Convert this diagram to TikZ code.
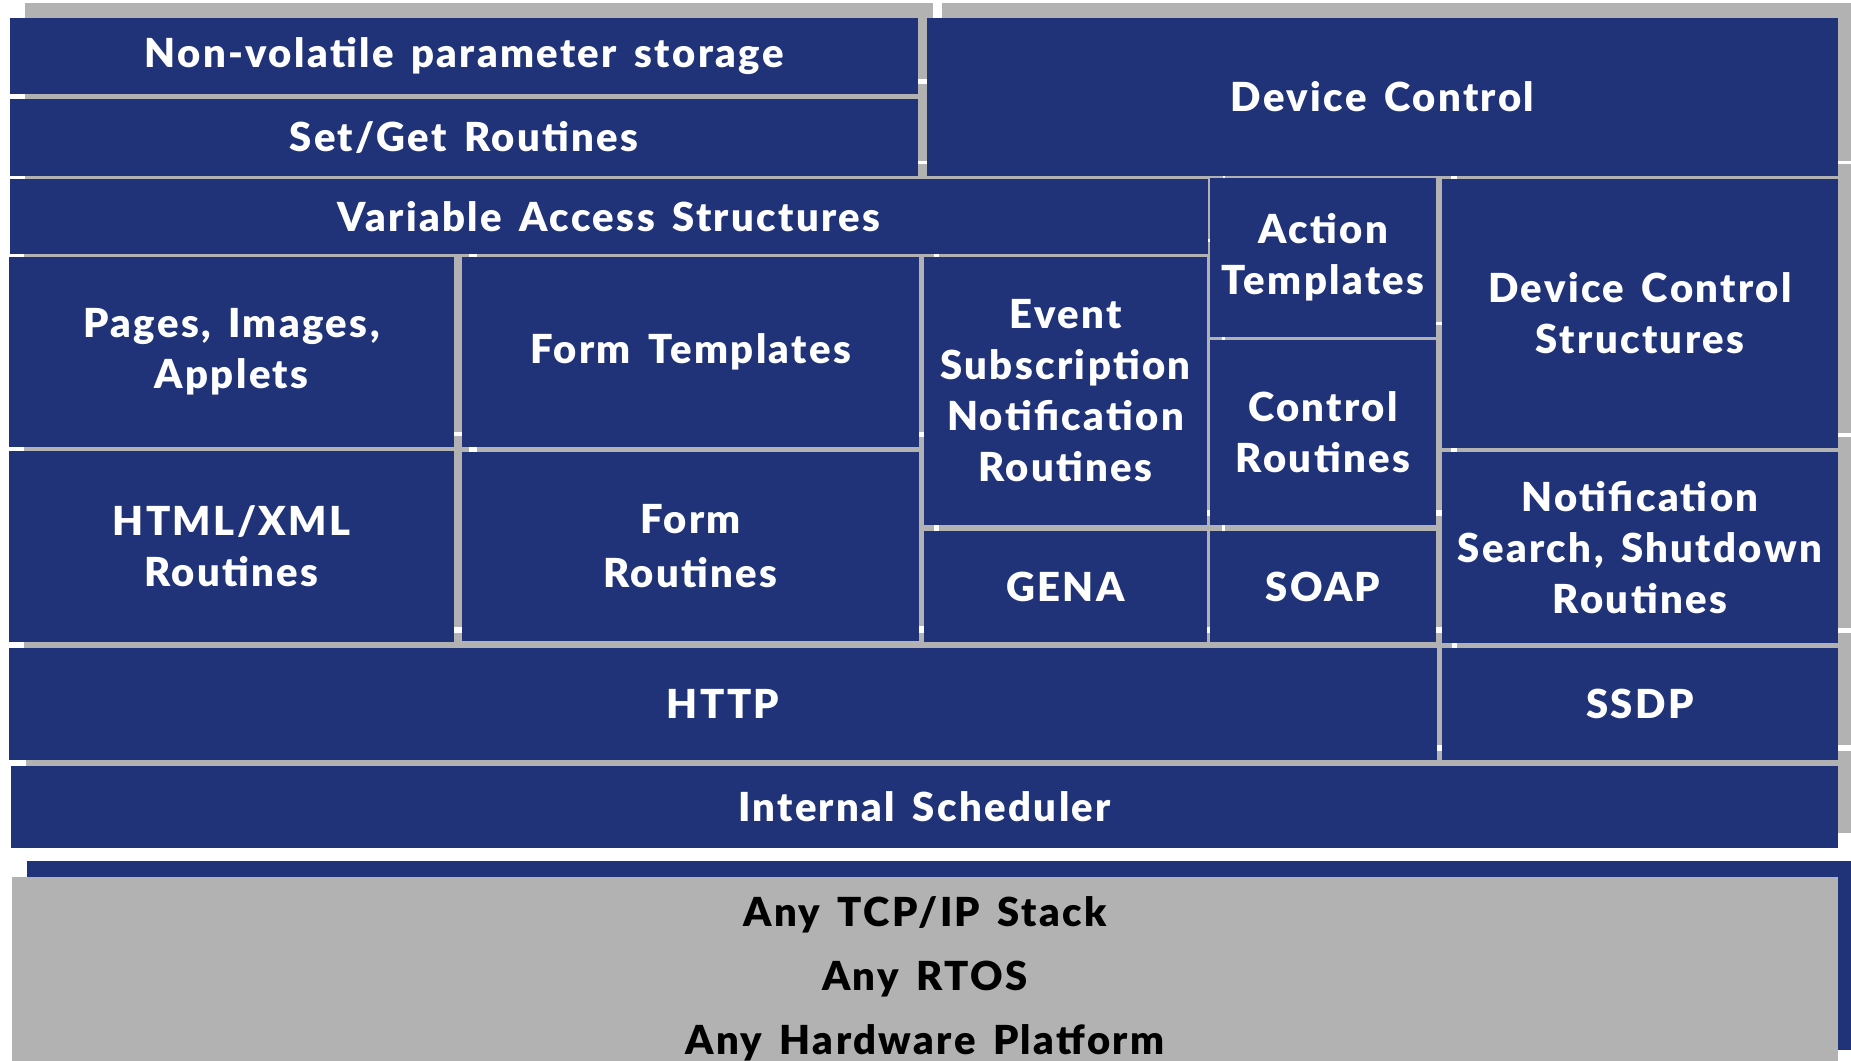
\documentclass[tikz,border=0pt]{standalone}
\usepackage{fontspec}
\setmainfont{Lato}[BoldFont={Lato Black}, LetterSpace=6, WordSpace=1.5]
\usetikzlibrary{backgrounds}

\definecolor{upnpblue}{RGB}{32,51,120}
\definecolor{upnpgray}{RGB}{178,178,178}
\newcommand\layerfont{\fontsize{40}{51}\selectfont\bfseries}

\tikzset{
  layer/.style={rectangle, fill=upnpblue, text=white, inner sep=0pt, align=center, font=\layerfont},
  platform/.style={rectangle, fill=upnpgray, text=black, inner sep=0pt, align=center, font=\fontsize{40}{64}\selectfont\bfseries},
  layer shadow/.style={fill=upnpgray},
}

\begin{document}
\begin{tikzpicture}[x=1pt, y=-1pt]
    \clip (0,0) rectangle (1851,1060);
    % top rows
    \node (nvps) [layer, minimum width=908pt, minimum height=76pt] at (464,56) {Non-volatile parameter storage};
    \node (setget) [layer, minimum width=908pt, minimum height=77pt] at (464,137.5) {Set/Get Routines};
    \node (devctl) [layer, minimum width=911pt, minimum height=158pt] at (1382.5,97) {Device Control};
    \node (vas) [layer, minimum width=1198pt, minimum height=75pt] at (609,216.5) {Variable Access Structures};
    \node (action) [layer, minimum width=226pt, minimum height=159pt] at (1323,257.5) {Action\\Templates};
    \node (dcs) [layer, minimum width=396pt, minimum height=269pt] at (1640,313.5) {Device Control\\Structures};
    % middle block
    \node (pages) [layer, minimum width=445pt, minimum height=190pt] at (231.5,352) {Pages, Images,\\Applets};
    \node (formtpl) [layer, minimum width=457pt, minimum height=190pt] at (690.5,352) {Form Templates};
    \node (event) [layer, minimum width=283pt, minimum height=268pt] at (1065.5,391) {Event\\Subscription\\Notification\\Routines};
    \node (ctrl) [layer, minimum width=226pt, minimum height=185pt] at (1323,432.5) {Control\\Routines};
    \node (html) [layer, minimum width=445pt, minimum height=191pt] at (231.5,546.5) {HTML/XML\\Routines};
    \node (formrt) [layer, minimum width=457pt, minimum height=189pt] at (690.5,546.5) {Form\\[3pt]Routines};
    \node (gena) [layer, minimum width=283pt, minimum height=111pt] at (1065.5,586.5) {GENA};
    \node (soap) [layer, minimum width=226pt, minimum height=111pt] at (1323,586.5) {SOAP};
    \node (notif) [layer, minimum width=396pt, minimum height=191pt] at (1640,547.5) {Notification\\Search, Shutdown\\Routines};
    % protocols
    \node (http) [layer, minimum width=1428pt, minimum height=112pt] at (723,704) {HTTP};
    \node (ssdp) [layer, minimum width=396pt, minimum height=112pt] at (1640,704) {SSDP};
    \node (sched) [layer, minimum width=1827pt, minimum height=82pt] at (924.5,807) {Internal Scheduler};
    \node (stack) [platform, minimum width=1826pt, minimum height=203pt] at (925,978.5) {Any TCP/IP Stack\\Any RTOS\\Any Hardware Platform};
    % shadows
    \begin{scope}[on background layer]
      \foreach \n in {nvps,setget,devctl,vas,action,dcs,pages,formtpl,event,ctrl,html,formrt,gena,soap,notif,http,ssdp,sched}
        \fill[layer shadow] ([shift={(15,-15)}]\n.south west) rectangle ([shift={(15,-15)}]\n.north east);
      \fill[upnpblue] ([shift={(15,-16)}]stack.north west) rectangle ([shift={(15,-30)}]stack.south east);
    \end{scope}
  \end{tikzpicture}
\end{document}
